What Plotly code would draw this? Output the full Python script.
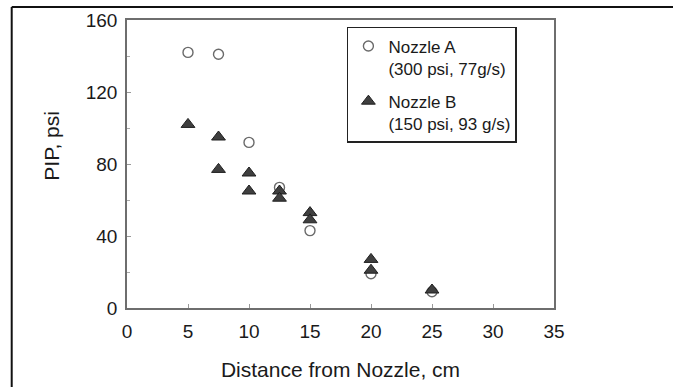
import plotly.graph_objects as go

# Data
nozzle_a_x = [5, 7.5, 10, 12.5, 15, 20, 25]
nozzle_a_y = [142, 141, 92, 67, 43, 19, 9]

nozzle_b_x = [5, 7.5, 7.5, 10, 10, 12.5, 12.5, 15, 15, 20, 20, 25]
nozzle_b_y = [102, 95, 77, 75, 65, 65, 61, 53, 49, 27, 21, 10]

name_a = "Nozzle A<br>(300 psi, 77g/s)"
name_b = "Nozzle B<br>(150 psi, 93 g/s)"

x_ticks = [0, 5, 10, 15, 20, 25, 30, 35]
y_ticks = [0, 40, 80, 120, 160]

FONT = "Liberation Sans, Arial, Helvetica, sans-serif"
AXIS_COLOR = "#6e6e6e"

fig = go.Figure()
fig.add_trace(go.Scatter(
    x=nozzle_a_x, y=nozzle_a_y, mode="markers", name=name_a,
    legendgroup="a",
    marker=dict(symbol="circle-open", size=10, color="#6a6a6a",
                line=dict(width=1.4, color="#6a6a6a")),
))
fig.add_trace(go.Scatter(
    x=nozzle_b_x, y=nozzle_b_y, mode="markers", name=name_b,
    legendgroup="b",
    marker=dict(symbol="triangle-up", size=12, color="#3f3f3f",
                line=dict(width=1, color="#1e1e1e")),
))

fig.update_layout(
    width=673, height=387,
    margin=dict(l=126.5, r=118.5, t=20, b=78.7),
    paper_bgcolor="white", plot_bgcolor="white",
    font=dict(family=FONT, color="#1a1a1a"),
    showlegend=True,
    legend=dict(
        x=0.515, y=0.976, xanchor="left", yanchor="top",
        xref="paper", yref="paper",
        bgcolor="white", bordercolor="#222222", borderwidth=1.5,
        font=dict(size=17, family=FONT, color="#1a1a1a"),
        traceorder="grouped", tracegroupgap=8, valign="top",
    ),
    xaxis=dict(
        range=[0, 35], tickvals=x_ticks, ticktext=[str(v) for v in x_ticks],
        ticks="inside", ticklen=4, tickcolor="#999999",
        showline=True, linecolor=AXIS_COLOR, linewidth=1.5, mirror=True,
        showgrid=False, zeroline=False, automargin=False,
        tickfont=dict(size=19, family=FONT, color="#1a1a1a"),
        ticklabelstandoff=5,
        title=dict(text="Distance from Nozzle, cm", standoff=22,
                   font=dict(size=21, family=FONT, color="#1a1a1a")),
    ),
    yaxis=dict(
        range=[0, 160], tickvals=y_ticks, ticktext=[str(v) for v in y_ticks],
        ticks="inside", ticklen=4, tickcolor="#999999",
        minor=dict(dtick=20, tick0=0, ticks="inside", ticklen=3, tickcolor="#aaaaaa"),
        showline=True, linecolor=AXIS_COLOR, linewidth=1.5, mirror=True,
        showgrid=False, zeroline=False, automargin=False,
        tickfont=dict(size=19, family=FONT, color="#1a1a1a"),
        ticklabelstandoff=4,
    ),
    annotations=[dict(
        text="PIP, psi", textangle=-90, showarrow=False,
        xref="paper", yref="paper", x=-0.176, y=0.563,
        xanchor="center", yanchor="middle",
        font=dict(size=21, family=FONT, color="#1a1a1a"),
    )],
    shapes=[
        # outer figure frame (top and left edges)
        dict(type="line", xref="paper", yref="paper",
             x0=-0.27, x1=1.3, y0=1.045, y1=1.045,
             line=dict(color="#111111", width=2)),
        dict(type="line", xref="paper", yref="paper",
             x0=-0.27, x1=-0.27, y0=1.045, y1=-0.3,
             line=dict(color="#111111", width=2)),
    ],
)

fig.write_html("out.html")
